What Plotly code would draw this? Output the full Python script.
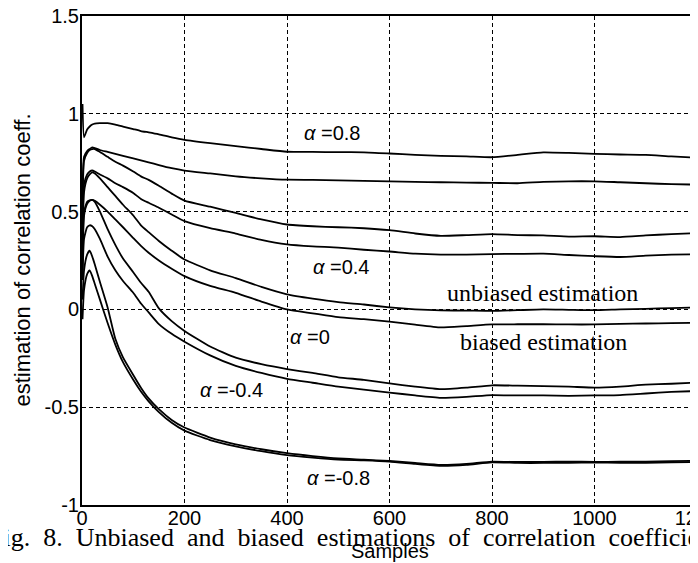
import plotly.graph_objects as go

# sample positions (shared by all curves)
samples = [1, 4, 10, 15, 20, 25, 35, 50, 65, 80, 100, 115, 130, 150, 175, 200,
           250, 300, 350, 400, 450, 500, 550, 600, 650, 700, 750, 800, 850, 900,
           950, 1000, 1050, 1100, 1150, 1200]

a08_unbiased = [1.05, 0.88, 0.92, 0.935, 0.945, 0.95, 0.952, 0.952, 0.945, 0.935, 0.922, 0.912, 0.905, 0.895, 0.88, 0.867,
                0.85, 0.835, 0.82, 0.806, 0.805, 0.804, 0.803, 0.797, 0.79, 0.785, 0.782, 0.778, 0.79, 0.803,
                0.8, 0.795, 0.792, 0.79, 0.782, 0.776]
a08_biased = [0.6, 0.78, 0.81, 0.82, 0.828, 0.825, 0.815, 0.805, 0.795, 0.785, 0.772, 0.762, 0.752, 0.738, 0.722, 0.71,
              0.695, 0.68, 0.67, 0.663, 0.662, 0.66, 0.657, 0.655, 0.652, 0.65, 0.648, 0.647, 0.645, 0.652,
              0.655, 0.655, 0.65, 0.645, 0.64, 0.638]
a04_unbiased = [0.5, 0.76, 0.8, 0.815, 0.82, 0.82, 0.805, 0.78, 0.755, 0.735, 0.705, 0.68, 0.662, 0.632, 0.592, 0.556,
                0.525, 0.493, 0.46, 0.434, 0.425, 0.42, 0.415, 0.405, 0.388, 0.376, 0.38, 0.385, 0.38, 0.378,
                0.372, 0.374, 0.37, 0.378, 0.385, 0.39]
a04_biased = [0.4, 0.64, 0.69, 0.705, 0.71, 0.705, 0.69, 0.67, 0.645, 0.625, 0.595, 0.565, 0.545, 0.52, 0.485, 0.451,
              0.415, 0.388, 0.355, 0.332, 0.322, 0.316, 0.305, 0.296, 0.285, 0.28, 0.28, 0.283, 0.284, 0.285,
              0.278, 0.272, 0.268, 0.275, 0.28, 0.282]
a0_unbiased = [0.3, 0.6, 0.67, 0.69, 0.70, 0.695, 0.67, 0.625, 0.58, 0.535, 0.48, 0.43, 0.395, 0.35, 0.3, 0.255,
               0.2, 0.16, 0.115, 0.077, 0.055, 0.037, 0.025, 0.01, 0.0, -0.005, -0.006, -0.008, -0.004, 0.0,
               -0.002, -0.004, 0.0, 0.003, 0.007, 0.01]
a0_biased = [0.2, 0.48, 0.54, 0.555, 0.56, 0.555, 0.535, 0.5, 0.46, 0.42, 0.365, 0.325, 0.29, 0.25, 0.208, 0.17,
             0.12, 0.085, 0.04, 0.0, -0.02, -0.04, -0.05, -0.062, -0.078, -0.092, -0.085, -0.077, -0.076, -0.076,
             -0.077, -0.077, -0.074, -0.072, -0.07, -0.068]
am04_unbiased = [0.25, 0.5, 0.55, 0.558, 0.56, 0.55, 0.5, 0.41, 0.33, 0.26, 0.19, 0.136, 0.09, 0.005, -0.06, -0.11,
                 -0.19, -0.247, -0.28, -0.305, -0.325, -0.347, -0.36, -0.378, -0.395, -0.408, -0.4, -0.388, -0.39, -0.392,
                 -0.395, -0.4, -0.395, -0.385, -0.38, -0.374]
am04_biased = [0.15, 0.36, 0.42, 0.43, 0.425, 0.41, 0.36, 0.27, 0.2, 0.145, 0.085, 0.03, -0.015, -0.075, -0.125, -0.165,
               -0.235, -0.289, -0.325, -0.355, -0.375, -0.395, -0.41, -0.425, -0.44, -0.452, -0.447, -0.438, -0.44, -0.44,
               -0.442, -0.44, -0.438, -0.43, -0.422, -0.417]
am08_unbiased = [0.05, 0.2, 0.28, 0.30, 0.27, 0.23, 0.14, 0.01, -0.15, -0.245, -0.335, -0.40, -0.455, -0.51, -0.565, -0.604,
                 -0.655, -0.69, -0.715, -0.735, -0.75, -0.762, -0.768, -0.775, -0.785, -0.795, -0.79, -0.778, -0.78, -0.78,
                 -0.778, -0.78, -0.779, -0.778, -0.776, -0.774]
am08_biased = [-0.05, 0.1, 0.18, 0.20, 0.17, 0.13, 0.05, -0.07, -0.18, -0.27, -0.36, -0.42, -0.47, -0.525, -0.58, -0.62,
               -0.668, -0.70, -0.725, -0.745, -0.758, -0.768, -0.772, -0.778, -0.79, -0.80, -0.795, -0.782, -0.785, -0.785,
               -0.784, -0.783, -0.784, -0.785, -0.782, -0.78]

series = [a08_unbiased, a08_biased, a04_unbiased, a04_biased, a0_unbiased, a0_biased,
          am04_unbiased, am04_biased, am08_unbiased, am08_biased]

x_ticks = [0, 200, 400, 600, 800, 1000, 1200]
y_ticks = [-1, -0.5, 0, 0.5, 1, 1.5]
y_tick_text = ["-1", "-0.5", "0", "0.5", "1", "1.5"]

# label texts and their positions (data coords)
curve_labels = ["<i>α</i> =0.8", "<i>α</i> =0.4", "<i>α</i> =0", "<i>α</i> =-0.4", "<i>α</i> =-0.8"]
curve_label_x = [488, 505, 445, 291, 500]
curve_label_y = [0.902, 0.217, -0.141, -0.412, -0.862]
est_labels = ["unbiased estimation", "biased estimation"]
est_label_x = [898, 900]
est_label_y = [0.084, -0.167]

caption_words = ["Fig.", "8.", "Unbiased", "and", "biased", "estimations", "of", "correlation", "coefficient"]
caption = "\u00a0 ".join(caption_words)

fig = go.Figure()
for ys in series:
    fig.add_trace(go.Scatter(x=samples, y=ys, mode="lines",
                             line=dict(color="black", width=1.8, shape="spline", smoothing=0.5),
                             showlegend=False, hoverinfo="skip"))

sans = "Liberation Sans, Arial, sans-serif"
serif = "Liberation Serif, Times New Roman, serif"

for t, x, y in zip(curve_labels, curve_label_x, curve_label_y):
    fig.add_annotation(x=x, y=y, xref="x", yref="y", text=t, showarrow=False,
                       font=dict(family=sans, size=20, color="black"))
for t, x, y in zip(est_labels, est_label_x, est_label_y):
    fig.add_annotation(x=x, y=y, xref="x", yref="y", text=t, showarrow=False,
                       font=dict(family=serif, size=24, color="black"))

PW, PH = 615.0, 489.0
# y-axis title
fig.add_annotation(x=-60 / PW, y=0.5, xref="paper", yref="paper", xanchor="center", yanchor="middle",
                   text="estimation of correlation coeff.", textangle=-90, showarrow=False,
                   font=dict(family=sans, size=22, color="black"))
# caption (partially cropped)
fig.add_annotation(x=-95 / PW, y=-32 / PH, xref="paper", yref="paper", xanchor="left", yanchor="middle",
                   text=caption, showarrow=False, font=dict(family=serif, size=26, color="black"))
# x-axis title
fig.add_annotation(x=0.5, y=-46 / PH, xref="paper", yref="paper", xanchor="center", yanchor="middle",
                   text="Samples", showarrow=False, font=dict(family=sans, size=20, color="black"))

fig.update_xaxes(range=[0, 1200], tickvals=x_ticks, showgrid=True, gridcolor="black", gridwidth=1.2,
                 griddash="4px,3px", showline=True, linecolor="black", linewidth=2, mirror=True,
                 zeroline=False, ticks="", ticklabelstandoff=-6, ticklabeloverflow="allow", automargin=False,
                 tickfont=dict(family=sans, size=20, color="black"))
fig.update_yaxes(range=[-1, 1.5], tickvals=y_ticks, ticktext=y_tick_text, showgrid=True, gridcolor="black",
                 gridwidth=1.2, griddash="4px,3px", showline=True, linecolor="black", linewidth=2, mirror=False,
                 zeroline=False, ticks="", ticklabelstandoff=-3, ticklabeloverflow="allow", automargin=False,
                 tickfont=dict(family=sans, size=20, color="black"))

fig.update_layout(width=690, height=555, margin=dict(l=74, r=1, t=8, b=58, autoexpand=False),
                  plot_bgcolor="white", paper_bgcolor="white")

fig.write_html("out.html")
